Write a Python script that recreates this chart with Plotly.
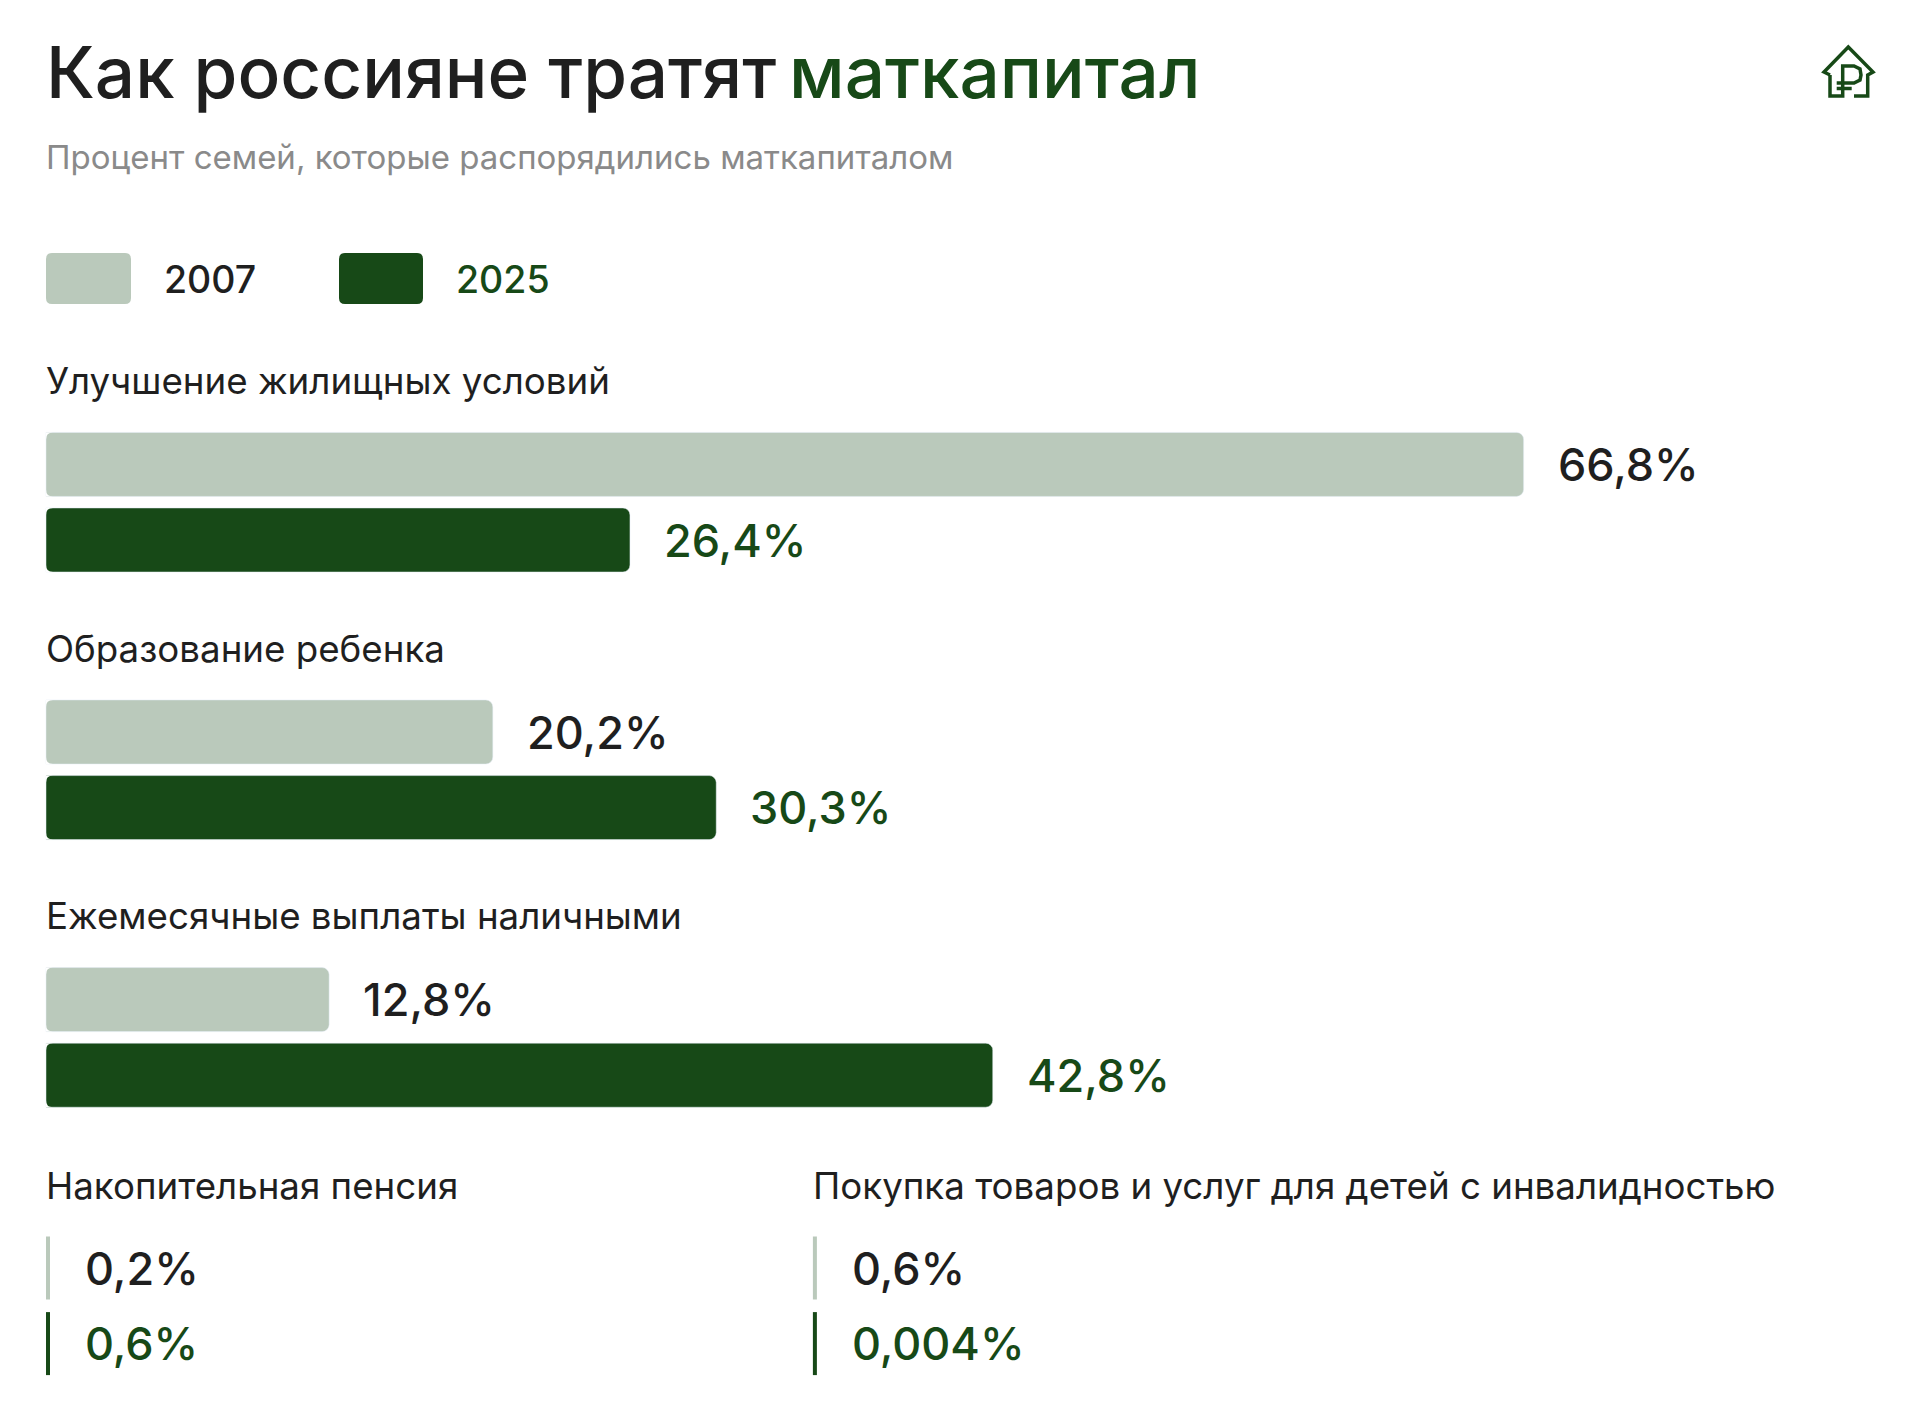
import plotly.graph_objects as go

# the page puts an 8 px margin round the plot, so all pixel positions below are
# page positions and get OFFSET taken off
PAGE_W, PAGE_H = 1920, 1422
OFFSET = 8
W, H = PAGE_W - 2 * OFFSET, PAGE_H - 2 * OFFSET
FONT = "Inter"
DARK = "#174917"
LIGHT = "#BAC9BB"
INK = "#1F1F1F"
GREY = "#8A8A8A"

# ── Data ─────────────────────────────────────────────────────────────────────
years = ["2007", "2025"]
categories = ["Улучшение жилищных условий", "Образование ребенка", "Ежемесячные выплаты наличными"]
rows = [0, 1, 2]
values_2007 = [66.8, 20.2, 12.8]
values_2025 = [26.4, 30.3, 42.8]
labels_2007 = ["66,8%", "20,2%", "12,8%"]
labels_2025 = ["26,4%", "30,3%", "42,8%"]

small_categories = ["Накопительная пенсия", "Покупка товаров и услуг для детей с инвалидностью"]
small_labels_2007 = ["0,2%", "0,6%"]
small_labels_2025 = ["0,6%", "0,004%"]

# ── Scales: 1 % = 22.12 px with zero at x=46, one row = 267.6 px ─────────────
PX_PER_PCT = 22.12
X0 = 46
ROW0 = 502.2
ROW_H = 267.6
SLOT = 0.2825  # distance between the two bar centres of a row
BAR_PX = 64
RADIUS = 7
SMALL_ROW = 3.003
SMALL_X = [0.09, 34.76]  # thin tick position of each small block, in axis units

VALUE_SIZE = 45
TITLE_SIZE = 71
SUB_SIZE = 33
CAT_SIZE = 36.7
LEGEND_SIZE = 37.5


def px(x):
    return (x - OFFSET) / W


def py(y):
    return 1 - (y - OFFSET) / H


def rounded(x0, y0, x1, y1, r):
    a, b, c, d = px(x0), px(x1), py(y0), py(y1)
    rx, ry = r / W, r / H
    return (f"M{a + rx},{c} L{b - rx},{c} Q{b},{c} {b},{c - ry} L{b},{d + ry} Q{b},{d} {b - rx},{d} "
            f"L{a + rx},{d} Q{a},{d} {a},{d + ry} L{a},{c - ry} Q{a},{c} {a + rx},{c} Z")


def text_at(x, y, text, size, color=INK, weight=400):
    return dict(
        x=px(x), y=py(y), xref="paper", yref="paper", text=text, showarrow=False,
        xanchor="left", yanchor="middle", borderpad=0, borderwidth=0,
        font=dict(family=FONT, size=size, color=color, weight=weight),
    )


def value_label(x, row, text, color, shift=33):
    return dict(
        x=x, y=row, xref="x", yref="y", xshift=shift, text=text, showarrow=False,
        xanchor="left", yanchor="middle", borderpad=0,
        font=dict(family=FONT, size=VALUE_SIZE, color=color, weight=500),
    )


# ── Bars ─────────────────────────────────────────────────────────────────────
fig = go.Figure()
fig.add_trace(go.Bar(y=rows, x=values_2007, name=years[0], orientation="h", marker_color=LIGHT))
fig.add_trace(go.Bar(y=rows, x=values_2025, name=years[1], orientation="h", marker_color=DARK))

# thin ticks of the two small blocks
for ys, color in [(SMALL_ROW - SLOT / 2, LIGHT), (SMALL_ROW + SLOT / 2, DARK)]:
    fig.add_trace(go.Scatter(
        x=SMALL_X, y=[ys, ys], mode="markers",
        marker=dict(symbol="line-ns", size=45, color=color, line=dict(width=4, color=color)),
    ))

# ── Text ─────────────────────────────────────────────────────────────────────
ann = [
    text_at(46, 72, "Как россияне тратят", TITLE_SIZE, weight=500),
    text_at(789, 72, "маткапитал", TITLE_SIZE, DARK, weight=500),
    text_at(46, 157, "Процент семей, которые распорядились маткапиталом", SUB_SIZE, GREY),
    text_at(164, 279, years[0], LEGEND_SIZE, weight=500),
    text_at(456, 279, years[1], LEGEND_SIZE, DARK, weight=500),
]
for r, cat in zip(rows, categories):
    ann.append(dict(
        x=0, y=r, xref="x", yref="y", xshift=-1, yshift=121.5, text=cat, showarrow=False,
        xanchor="left", yanchor="middle", borderpad=0,
        font=dict(family=FONT, size=CAT_SIZE, color=INK),
    ))
for r, v, lab in zip(rows, values_2007, labels_2007):
    ann.append(value_label(v, r - SLOT / 2, lab, INK))
for r, v, lab in zip(rows, values_2025, labels_2025):
    ann.append(value_label(v, r + SLOT / 2, lab, DARK))
for x, cat, a, b in zip(SMALL_X, small_categories, small_labels_2007, small_labels_2025):
    ann.append(dict(
        x=x, y=SMALL_ROW, xref="x", yref="y", xshift=-3, yshift=120.5, text=cat, showarrow=False,
        xanchor="left", yanchor="middle", borderpad=0,
        font=dict(family=FONT, size=CAT_SIZE, color=INK),
    ))
    ann.append(value_label(x, SMALL_ROW - SLOT / 2, a, INK, shift=36))
    ann.append(value_label(x, SMALL_ROW + SLOT / 2, b, DARK, shift=36))

# ── Legend swatches, left bar corners and house icon ─────────────────────────
shapes = [
    dict(type="path", xref="paper", yref="paper", path=rounded(46, 253, 131, 304, 6), fillcolor=LIGHT, line_width=0),
    dict(type="path", xref="paper", yref="paper", path=rounded(339, 253, 423, 304, 6), fillcolor=DARK, line_width=0),
]

# plotly only rounds the far end of a bar, white masks round the near end
for r in rows:
    for side in (-1, 1):
        mid = ROW0 + ROW_H * (r + side * SLOT / 2)
        for edge, sign in ((mid - BAR_PX / 2, 1), (mid + BAR_PX / 2, -1)):
            a, b = px(X0), py(edge)
            rx, ry = RADIUS / W, sign * RADIUS / H
            shapes.append(dict(
                type="path", xref="paper", yref="paper", fillcolor="white", line_width=0,
                path=f"M{a},{b} L{a + rx},{b} Q{a},{b} {a},{b - ry} Z",
            ))


def icon(points):
    d = "M" + " L".join(f"{px(x)},{py(y)}" for x, y in points)
    shapes.append(dict(type="path", xref="paper", yref="paper", path=d, line=dict(color=DARK, width=3.5)))


icon([(1830, 75), (1824, 72), (1848.3, 47), (1873, 72), (1867.7, 75), (1867.7, 96), (1854, 96)])
icon([(1830, 75), (1830, 96), (1842.7, 96), (1842.7, 66), (1854, 66), (1860, 69), (1861, 75), (1860, 80), (1854, 83), (1836.7, 83)])
icon([(1836.7, 88.5), (1851.7, 88.5)])

fig.update_layout(
    width=W, height=H, autosize=False,
    margin=dict(l=0, r=0, t=0, b=0),
    paper_bgcolor="white", plot_bgcolor="white",
    barmode="group", bargap=1 - 2 * SLOT, bargroupgap=0.153, barcornerradius=RADIUS,
    showlegend=False,
    xaxis=dict(range=[(OFFSET - X0) / PX_PER_PCT, (W + OFFSET - X0) / PX_PER_PCT], visible=False, fixedrange=True),
    yaxis=dict(range=[(H + OFFSET - ROW0) / ROW_H, (OFFSET - ROW0) / ROW_H], visible=False, fixedrange=True),
    annotations=ann, shapes=shapes,
    font=dict(family=FONT),
)
fig.write_html("out.html")
